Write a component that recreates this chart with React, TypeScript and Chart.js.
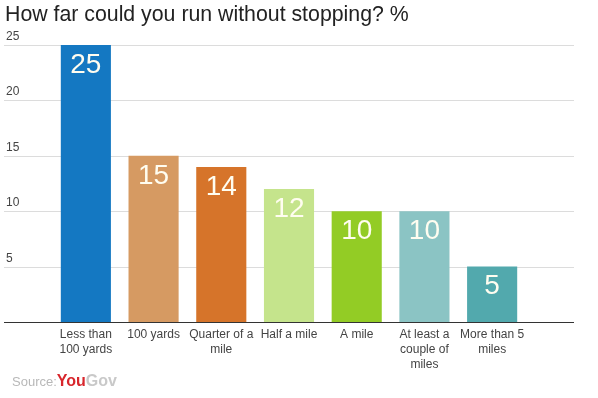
import React, { useEffect, useRef } from "react";
import { Chart, registerables } from "chart.js";

Chart.register(...registerables);

const categories: string[][] = [
  ["Less than", "100 yards"],
  ["100 yards"],
  ["Quarter of a", "mile"],
  ["Half a mile"],
  ["A mile"],
  ["At least a", "couple of", "miles"],
  ["More than 5", "miles"],
];
const values: number[] = [25, 15, 14, 12, 10, 10, 5];
const barColors: string[] = ["#1478c2", "#d69a62", "#d6742a", "#c5e48c", "#93cc25", "#8bc4c4", "#52a9ad"];
const yTicks: number[] = [5, 10, 15, 20, 25];

const App = () => {
  const ref = useRef<HTMLCanvasElement>(null);
  useEffect(() => {
    if (!ref.current) return;
    const gridPlugin = {
      id: "gridPlugin",
      beforeDatasetsDraw(chart: any) {
        const ctx = chart.ctx;
        const y = chart.scales.y;
        ctx.save();
        ctx.font = "12px Arial";
        ctx.fillStyle = "#444";
        ctx.textAlign = "left";
        ctx.textBaseline = "bottom";
        for (const t of yTicks) {
          const py = Math.round(y.getPixelForValue(t)) + 0.5;
          ctx.strokeStyle = "#dcdcdc";
          ctx.lineWidth = 1;
          ctx.beginPath();
          ctx.moveTo(4, py);
          ctx.lineTo(574, py);
          ctx.stroke();
          ctx.fillText(String(t), 6, py - 3);
        }
        const p0 = Math.round(y.getPixelForValue(0)) + 0.5;
        ctx.strokeStyle = "#333";
        ctx.lineWidth = 1.2;
        ctx.beginPath();
        ctx.moveTo(4, p0);
        ctx.lineTo(574, p0);
        ctx.stroke();
        ctx.restore();
      },
      afterDatasetsDraw(chart: any) {
        const ctx = chart.ctx;
        const meta = chart.getDatasetMeta(0);
        ctx.save();
        ctx.font = "28px Arial";
        ctx.fillStyle = "#fffdf0";
        ctx.textAlign = "center";
        ctx.textBaseline = "top";
        meta.data.forEach((bar: any, i: number) => {
          ctx.fillText(String(values[i]), bar.x, bar.y + 6);
        });
        ctx.restore();
      },
    };
    const chart = new Chart(ref.current, {
      type: "bar",
      data: {
        labels: categories,
        datasets: [
          {
            data: values,
            backgroundColor: barColors,
            borderWidth: 0,
            barPercentage: 0.74,
            categoryPercentage: 1,
          },
        ],
      },
      options: {
        animation: false,
        responsive: false,
        maintainAspectRatio: false,
        layout: { padding: { left: 52, right: 72, top: 45, bottom: 21 } },
        plugins: { legend: { display: false }, tooltip: { enabled: false }, title: { display: false } },
        scales: {
          y: {
            display: false,
            min: 0,
            max: 25,
          },
          x: {
            grid: { display: false, drawTicks: false, tickLength: 0 },
            border: { display: false },
            ticks: {
              autoSkip: false,
              maxRotation: 0,
              minRotation: 0,
              color: "#444",
              font: { family: "Arial", size: 12, lineHeight: 1.25 },
              padding: 5,
            },
          },
        },
      },
      plugins: [gridPlugin],
    });
    return () => chart.destroy();
  }, []);
  return (
    <div style={{ position: "absolute", left: 0, top: 0, width: 598, height: 398, background: "#fff" }}>
      <canvas ref={ref} width={598} height={398} style={{ position: "absolute", left: 0, top: 0 }} />
      <div
        style={{
          position: "absolute",
          left: 5,
          top: 2,
          fontFamily: "Arial, 'Liberation Sans', sans-serif",
          fontSize: 21.3,
          color: "#222",
          whiteSpace: "nowrap",
        }}
      >
        How far could you run without stopping? %
      </div>
      <div
        style={{
          position: "absolute",
          left: 12,
          top: 372,
          fontFamily: "Arial, 'Liberation Sans', sans-serif",
          whiteSpace: "nowrap",
        }}
      >
        <span style={{ fontSize: 13, color: "#b8b8b8" }}>Source:</span>
        <span style={{ fontSize: 16, fontWeight: "bold", color: "#d8262c" }}>You</span>
        <span style={{ fontSize: 16, fontWeight: "bold", color: "#c9c9c9" }}>Gov</span>
      </div>
    </div>
  );
};

export default App;
